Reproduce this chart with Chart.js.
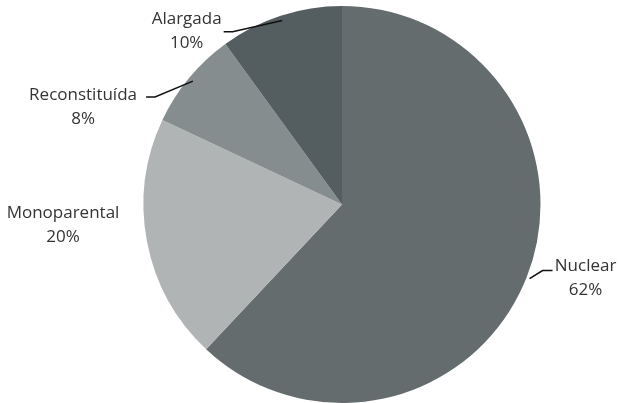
<!DOCTYPE html>
<html>
<head>
<meta charset="utf-8">
<script src="https://cdn.jsdelivr.net/npm/chart.js@4.4.1/dist/chart.umd.min.js"></script>
<style>
  html, body { margin: 0; padding: 0; background: #fff; }
  #wrap { width: 620px; height: 403px; }
</style>
</head>
<body>
<div id="wrap"><canvas id="famChart" width="620" height="403"></canvas></div>
<script>
// Family types
const categories = ["Nuclear", "Monoparental", "Reconstituída", "Alargada"];
const shares = [62, 20, 8, 10];
const sliceColors = ["#656c6e", "#b1b4b5", "#868d8f", "#545d5f"];

// label placement relative to slice's outer edge point (dx, dy); leader = [elbow, end] or null
const labelLayout = [
  { text: [59, -11], leader: [[16, -7], [26, -7]] },
  { text: [-84, -29], leader: null },
  { text: [-106, 17], leader: [[-34, 19], [-43, 19]] },
  { text: [-94, 3], leader: [[-48, 16], [-57, 16]] }
];

const pieLabels = {
  id: "pieLabels",
  afterDatasetsDraw(chart) {
    const c = chart.ctx;
    const arcs = chart.getDatasetMeta(0).data;
    c.save();
    c.font = "17px 'Open Sans', sans-serif";
    c.fillStyle = "#333";
    c.strokeStyle = "#111";
    c.lineWidth = 1.6;
    c.textAlign = "center";
    c.textBaseline = "middle";
    arcs.forEach((arc, i) => {
      const mid = (arc.startAngle + arc.endAngle) / 2;
      const ex = arc.x + Math.cos(mid) * arc.outerRadius;
      const ey = arc.y + Math.sin(mid) * arc.outerRadius;
      const lay = labelLayout[i];
      if (lay.leader) {
        const sx = arc.x + Math.cos(mid) * arc.outerRadius * 0.975;
        const sy = arc.y + Math.sin(mid) * arc.outerRadius * 0.975;
        c.beginPath();
        c.moveTo(i === 0 ? ex + 3 : sx, i === 0 ? ey + 1 : sy);
        c.lineTo(ex + lay.leader[0][0], ey + lay.leader[0][1]);
        c.lineTo(ex + lay.leader[1][0], ey + lay.leader[1][1]);
        c.stroke();
      }
      const tx = ex + lay.text[0];
      const ty = ey + lay.text[1];
      c.fillText(categories[i], tx, ty);
      c.fillText(shares[i] + "%", tx, ty + 24);
    });
    c.restore();
  }
};

const ctx = document.getElementById("famChart");

new Chart(ctx, {
  type: "pie",
  data: {
    labels: categories,
    datasets: [
      {
        data: shares,
        backgroundColor: sliceColors,
        borderWidth: 0
      }
    ]
  },
  options: {
    responsive: false,
    animation: false,
    layout: { padding: { left: 142, right: 78, top: 6, bottom: 0 } },
    plugins: {
      legend: { display: false },
      tooltip: { enabled: false }
    }
  },
  plugins: [pieLabels]
});
</script>
</body>
</html>
